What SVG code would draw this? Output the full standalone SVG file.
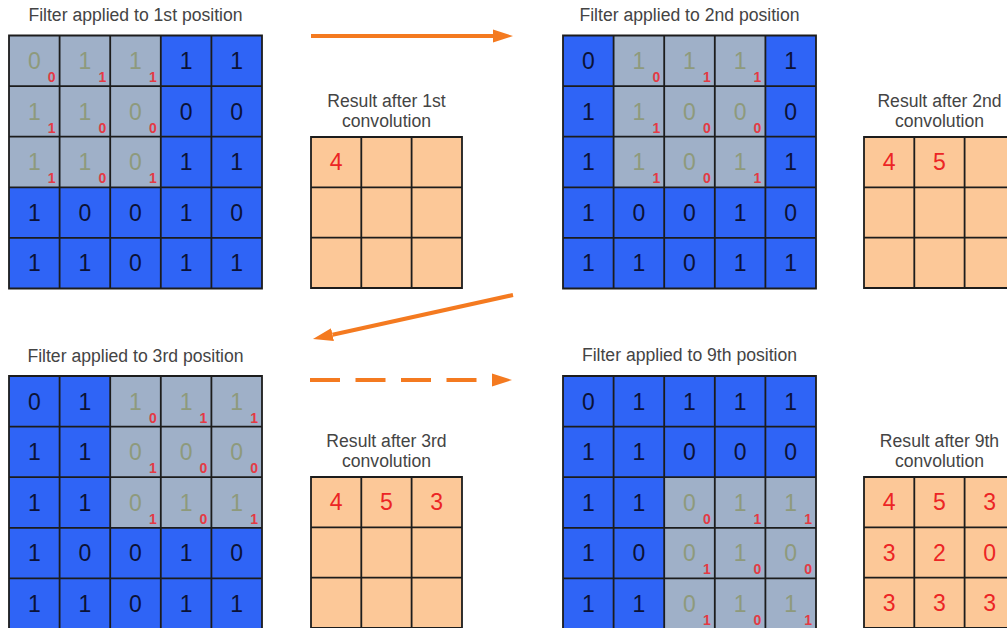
<svg xmlns="http://www.w3.org/2000/svg" width="1007" height="628" viewBox="0 0 1007 628">
<defs>
<style>
text{font-family:"Liberation Sans",Arial,sans-serif}
.ti{font-size:17.6px;fill:#444;text-anchor:middle}
.d{font-size:23px;text-anchor:middle}
.tb{fill:#0b1236}
.tg{fill:#8e9a7c}
.tf{font-size:14px;fill:#e43a44;text-anchor:end;font-weight:bold}
.tr{fill:#ec2525}
.bl{fill:#2f64f6}
.gr{fill:#9fb0c8}
.rs{fill:#fcc898}
.ln{fill:none;stroke:#1c1c1c;stroke-width:1.8}
.ar{fill:none;stroke:#f47a20;stroke-width:4}
</style>
<marker id="ah" markerUnits="userSpaceOnUse" markerWidth="21" markerHeight="14" refX="0" refY="7" orient="auto">
<path d="M0,0.5 L20,7 L0,13.5 z" fill="#f47a20"/>
</marker>
<path id="g5" d="M0,0H253V253H0Z M50.6,0V253 M101.2,0V253 M151.8,0V253 M202.4,0V253 M0,50.6H253 M0,101.2H253 M0,151.8H253 M0,202.4H253"/>
<path id="g3" d="M0,0H151V151H0Z M50.3,0V151 M100.6,0V151 M0,50.3H151 M0,100.6H151"/>
</defs>
<rect width="1007" height="628" fill="#fff"/>

<g id="titles">
<text class="ti" x="135.5" y="21">Filter applied to 1st position</text>
<text class="ti" x="689.5" y="21">Filter applied to 2nd position</text>
<text class="ti" x="135.5" y="362">Filter applied to 3rd position</text>
<text class="ti" x="689.5" y="361">Filter applied to 9th position</text>
</g>

<g id="grid1" transform="translate(9,35.5)">
<rect class="bl" width="253" height="253"/>
<rect class="gr" x="0" y="0" width="151.8" height="151.8"/>
<use href="#g5" class="ln"/>
<g class="d">
<text class="tg" x="25.3" y="33.5">0</text><text class="tg" x="75.9" y="33.5">1</text><text class="tg" x="126.5" y="33.5">1</text><text class="tb" x="177.1" y="33.5">1</text><text class="tb" x="227.7" y="33.5">1</text>
<text class="tg" x="25.3" y="84.1">1</text><text class="tg" x="75.9" y="84.1">1</text><text class="tg" x="126.5" y="84.1">0</text><text class="tb" x="177.1" y="84.1">0</text><text class="tb" x="227.7" y="84.1">0</text>
<text class="tg" x="25.3" y="134.7">1</text><text class="tg" x="75.9" y="134.7">1</text><text class="tg" x="126.5" y="134.7">0</text><text class="tb" x="177.1" y="134.7">1</text><text class="tb" x="227.7" y="134.7">1</text>
<text class="tb" x="25.3" y="185.3">1</text><text class="tb" x="75.9" y="185.3">0</text><text class="tb" x="126.5" y="185.3">0</text><text class="tb" x="177.1" y="185.3">1</text><text class="tb" x="227.7" y="185.3">0</text>
<text class="tb" x="25.3" y="235.9">1</text><text class="tb" x="75.9" y="235.9">1</text><text class="tb" x="126.5" y="235.9">0</text><text class="tb" x="177.1" y="235.9">1</text><text class="tb" x="227.7" y="235.9">1</text>
</g>
<text class="tf" x="46.6" y="46.6">0</text><text class="tf" x="97.2" y="46.6">1</text><text class="tf" x="147.8" y="46.6">1</text>
<text class="tf" x="46.6" y="97.2">1</text><text class="tf" x="97.2" y="97.2">0</text><text class="tf" x="147.8" y="97.2">0</text>
<text class="tf" x="46.6" y="147.8">1</text><text class="tf" x="97.2" y="147.8">0</text><text class="tf" x="147.8" y="147.8">1</text>
</g>

<g id="grid2" transform="translate(563,35.5)">
<rect class="bl" width="253" height="253"/>
<rect class="gr" x="50.6" y="0" width="151.8" height="151.8"/>
<use href="#g5" class="ln"/>
<g class="d">
<text class="tb" x="25.3" y="33.5">0</text><text class="tg" x="75.9" y="33.5">1</text><text class="tg" x="126.5" y="33.5">1</text><text class="tg" x="177.1" y="33.5">1</text><text class="tb" x="227.7" y="33.5">1</text>
<text class="tb" x="25.3" y="84.1">1</text><text class="tg" x="75.9" y="84.1">1</text><text class="tg" x="126.5" y="84.1">0</text><text class="tg" x="177.1" y="84.1">0</text><text class="tb" x="227.7" y="84.1">0</text>
<text class="tb" x="25.3" y="134.7">1</text><text class="tg" x="75.9" y="134.7">1</text><text class="tg" x="126.5" y="134.7">0</text><text class="tg" x="177.1" y="134.7">1</text><text class="tb" x="227.7" y="134.7">1</text>
<text class="tb" x="25.3" y="185.3">1</text><text class="tb" x="75.9" y="185.3">0</text><text class="tb" x="126.5" y="185.3">0</text><text class="tb" x="177.1" y="185.3">1</text><text class="tb" x="227.7" y="185.3">0</text>
<text class="tb" x="25.3" y="235.9">1</text><text class="tb" x="75.9" y="235.9">1</text><text class="tb" x="126.5" y="235.9">0</text><text class="tb" x="177.1" y="235.9">1</text><text class="tb" x="227.7" y="235.9">1</text>
</g>
<text class="tf" x="97.2" y="46.6">0</text><text class="tf" x="147.8" y="46.6">1</text><text class="tf" x="198.4" y="46.6">1</text>
<text class="tf" x="97.2" y="97.2">1</text><text class="tf" x="147.8" y="97.2">0</text><text class="tf" x="198.4" y="97.2">0</text>
<text class="tf" x="97.2" y="147.8">1</text><text class="tf" x="147.8" y="147.8">0</text><text class="tf" x="198.4" y="147.8">1</text>
</g>

<g id="grid3" transform="translate(9,376)">
<rect class="bl" width="253" height="253"/>
<rect class="gr" x="101.2" y="0" width="151.8" height="151.8"/>
<use href="#g5" class="ln"/>
<g class="d">
<text class="tb" x="25.3" y="33.5">0</text><text class="tb" x="75.9" y="33.5">1</text><text class="tg" x="126.5" y="33.5">1</text><text class="tg" x="177.1" y="33.5">1</text><text class="tg" x="227.7" y="33.5">1</text>
<text class="tb" x="25.3" y="84.1">1</text><text class="tb" x="75.9" y="84.1">1</text><text class="tg" x="126.5" y="84.1">0</text><text class="tg" x="177.1" y="84.1">0</text><text class="tg" x="227.7" y="84.1">0</text>
<text class="tb" x="25.3" y="134.7">1</text><text class="tb" x="75.9" y="134.7">1</text><text class="tg" x="126.5" y="134.7">0</text><text class="tg" x="177.1" y="134.7">1</text><text class="tg" x="227.7" y="134.7">1</text>
<text class="tb" x="25.3" y="185.3">1</text><text class="tb" x="75.9" y="185.3">0</text><text class="tb" x="126.5" y="185.3">0</text><text class="tb" x="177.1" y="185.3">1</text><text class="tb" x="227.7" y="185.3">0</text>
<text class="tb" x="25.3" y="235.9">1</text><text class="tb" x="75.9" y="235.9">1</text><text class="tb" x="126.5" y="235.9">0</text><text class="tb" x="177.1" y="235.9">1</text><text class="tb" x="227.7" y="235.9">1</text>
</g>
<text class="tf" x="147.8" y="46.6">0</text><text class="tf" x="198.4" y="46.6">1</text><text class="tf" x="249" y="46.6">1</text>
<text class="tf" x="147.8" y="97.2">1</text><text class="tf" x="198.4" y="97.2">0</text><text class="tf" x="249" y="97.2">0</text>
<text class="tf" x="147.8" y="147.8">1</text><text class="tf" x="198.4" y="147.8">0</text><text class="tf" x="249" y="147.8">1</text>
</g>

<g id="grid4" transform="translate(563,376)">
<rect class="bl" width="253" height="253"/>
<rect class="gr" x="101.2" y="101.2" width="151.8" height="151.8"/>
<use href="#g5" class="ln"/>
<g class="d">
<text class="tb" x="25.3" y="33.5">0</text><text class="tb" x="75.9" y="33.5">1</text><text class="tb" x="126.5" y="33.5">1</text><text class="tb" x="177.1" y="33.5">1</text><text class="tb" x="227.7" y="33.5">1</text>
<text class="tb" x="25.3" y="84.1">1</text><text class="tb" x="75.9" y="84.1">1</text><text class="tb" x="126.5" y="84.1">0</text><text class="tb" x="177.1" y="84.1">0</text><text class="tb" x="227.7" y="84.1">0</text>
<text class="tb" x="25.3" y="134.7">1</text><text class="tb" x="75.9" y="134.7">1</text><text class="tg" x="126.5" y="134.7">0</text><text class="tg" x="177.1" y="134.7">1</text><text class="tg" x="227.7" y="134.7">1</text>
<text class="tb" x="25.3" y="185.3">1</text><text class="tb" x="75.9" y="185.3">0</text><text class="tg" x="126.5" y="185.3">0</text><text class="tg" x="177.1" y="185.3">1</text><text class="tg" x="227.7" y="185.3">0</text>
<text class="tb" x="25.3" y="235.9">1</text><text class="tb" x="75.9" y="235.9">1</text><text class="tg" x="126.5" y="235.9">0</text><text class="tg" x="177.1" y="235.9">1</text><text class="tg" x="227.7" y="235.9">1</text>
</g>
<text class="tf" x="147.8" y="147.8">0</text><text class="tf" x="198.4" y="147.8">1</text><text class="tf" x="249" y="147.8">1</text>
<text class="tf" x="147.8" y="198.4">1</text><text class="tf" x="198.4" y="198.4">0</text><text class="tf" x="249" y="198.4">0</text>
<text class="tf" x="147.8" y="249">1</text><text class="tf" x="198.4" y="249">0</text><text class="tf" x="249" y="249">1</text>
</g>

<g id="result1">
<text class="ti" x="386.5" y="107">Result after 1st</text>
<text class="ti" x="386.5" y="127">convolution</text>
<g transform="translate(311,137)">
<rect class="rs" width="151" height="151"/>
<use href="#g3" class="ln"/>
<text class="d tr" x="25.15" y="33.3">4</text>
</g>
</g>

<g id="result2">
<text class="ti" x="939.5" y="107">Result after 2nd</text>
<text class="ti" x="939.5" y="127">convolution</text>
<g transform="translate(864,137)">
<rect class="rs" width="151" height="151"/>
<use href="#g3" class="ln"/>
<text class="d tr" x="25.15" y="33.3">4</text><text class="d tr" x="75.45" y="33.3">5</text>
</g>
</g>

<g id="result3">
<text class="ti" x="386.5" y="447">Result after 3rd</text>
<text class="ti" x="386.5" y="467">convolution</text>
<g transform="translate(311,477)">
<rect class="rs" width="151" height="151"/>
<use href="#g3" class="ln"/>
<text class="d tr" x="25.15" y="33.3">4</text><text class="d tr" x="75.45" y="33.3">5</text><text class="d tr" x="125.75" y="33.3">3</text>
</g>
</g>

<g id="result4">
<text class="ti" x="939.5" y="447">Result after 9th</text>
<text class="ti" x="939.5" y="467">convolution</text>
<g transform="translate(864,477)">
<rect class="rs" width="151" height="151"/>
<use href="#g3" class="ln"/>
<text class="d tr" x="25.15" y="33.3">4</text><text class="d tr" x="75.45" y="33.3">5</text><text class="d tr" x="125.75" y="33.3">3</text>
<text class="d tr" x="25.15" y="83.6">3</text><text class="d tr" x="75.45" y="83.6">2</text><text class="d tr" x="125.75" y="83.6">0</text>
<text class="d tr" x="25.15" y="133.9">3</text><text class="d tr" x="75.45" y="133.9">3</text><text class="d tr" x="125.75" y="133.9">3</text>
</g>
</g>

<g id="connectors">
<line class="ar" x1="311" y1="36" x2="493" y2="36" marker-end="url(#ah)"/>
<line class="ar" x1="513" y1="295" x2="332.5" y2="334.7" marker-end="url(#ah)"/>
<line class="ar" x1="310" y1="380" x2="492" y2="380" stroke-dasharray="30 15.5" marker-end="url(#ah)"/>
</g>
</svg>
